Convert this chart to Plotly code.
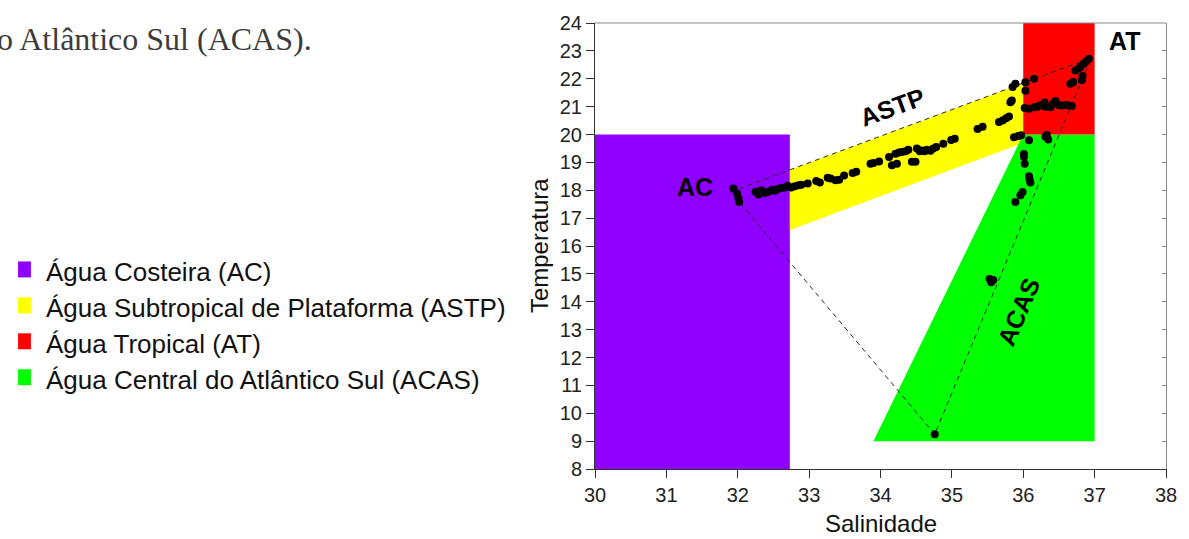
import plotly.graph_objects as go

# ---------------- data ----------------
# water-mass regions (salinity, temperature vertices)
AC_S = [30, 32.73, 32.73, 30]
AC_T = [8, 8, 20, 20]
ASTP_S = [32.73, 32.73, 36, 36]
ASTP_T = [16.57, 18.73, 21.85, 19.7]
ACAS_S = [33.9, 37, 37, 36]
ACAS_T = [9, 9, 20, 20]
AT_S = [36, 37, 37, 36]
AT_T = [20, 20, 24, 24]

# mixing triangle AC -> AT -> ACAS -> AC
TRI_S = [31.9, 36.95, 34.76, 31.9]
TRI_T = [17.94, 22.75, 9.25, 17.94]

# observed T-S points
SAL = [31.94, 31.99, 32.01, 32.02,
       32.25, 32.29, 32.33, 32.38, 32.43, 32.48, 32.52, 32.57, 32.61, 32.66, 32.70, 32.75,
       32.80, 32.85, 32.89, 32.98, 33.10, 33.15, 33.26, 33.30, 33.37, 33.42, 33.49, 33.61, 33.66,
       33.86, 33.90, 33.98, 34.12, 34.16, 34.23, 34.21, 34.26, 34.30, 34.35, 34.39, 34.44, 34.49,
       34.51, 34.55, 34.58, 34.62, 34.65, 34.70, 34.74, 34.78, 34.88, 34.99, 35.04,
       35.36, 35.43, 35.66, 35.71, 35.76, 35.80, 35.82, 35.84, 35.85, 35.89, 36.03, 36.03, 36.15,
       35.87, 35.93, 35.97, 36.08, 36.01, 36.01, 36.02, 36.08, 36.09, 36.10, 35.99, 35.96, 35.89,
       36.31, 36.35, 36.33,
       36.02, 36.08, 36.15, 36.20, 36.24, 36.30, 36.31, 36.38, 36.42, 36.45, 36.50, 36.54, 36.60,
       36.63, 36.68,
       36.66, 36.70, 36.82, 36.83, 36.73, 36.78, 36.80, 36.85, 36.88, 36.92,
       35.53, 35.58, 35.55, 34.76]
TEMP = [18.06, 17.88, 17.70, 17.58,
        17.95, 17.85, 18.00, 17.90, 17.95, 18.02, 17.98, 18.05, 18.08, 18.10, 18.16, 18.10,
        18.14, 18.18, 18.20, 18.24, 18.33, 18.28, 18.45, 18.42, 18.36, 18.38, 18.53, 18.62, 18.66,
        18.95, 18.98, 19.03, 19.19, 18.90, 18.95, 19.31, 19.35, 19.37, 19.40, 19.45, 19.02, 19.02,
        19.50, 19.40, 19.43, 19.40, 19.45, 19.42, 19.50, 19.55, 19.67, 19.80, 19.85,
        20.20, 20.28, 20.45, 20.50, 20.58, 20.65, 21.16, 21.22, 21.70, 21.82, 21.87, 21.57, 22.00,
        19.90, 19.95, 19.97, 19.79, 19.30, 19.20, 18.95, 18.50, 18.38, 18.28, 17.94, 17.82, 17.58,
        19.92, 19.82, 19.98,
        20.95, 20.92, 20.98, 21.00, 21.05, 21.15, 21.00, 20.98, 21.10, 21.20, 21.05, 21.04, 21.06,
        21.04, 21.02,
        21.82, 21.88, 21.95, 22.10, 22.30, 22.38, 22.42, 22.55, 22.62, 22.72,
        14.82, 14.78, 14.70, 9.25]

X_TICKS = [30, 31, 32, 33, 34, 35, 36, 37, 38]
Y_TICKS = list(range(8, 25))

LEGEND_LABELS = ["Água Costeira (AC)", "Água Subtropical de Plataforma (ASTP)",
                 "Água Tropical (AT)", "Água Central do Atlântico Sul (ACAS)"]
COLORS = ["#8F00FF", "#FFFF00", "#FF0000", "#00FF00"]

# ---------------- figure ----------------
W, H = 1189, 539
L, R, T, B = 595, 17, 22, 70
PW, PH = W - L - R, H - T - B


def px(x):
    return (x - L) / PW


def py(y):
    return (H - B - y) / PH


SANS = "Liberation Sans, Arial, sans-serif"

fig = go.Figure()
for s, t, c in [(AC_S, AC_T, COLORS[0]), (ASTP_S, ASTP_T, COLORS[1]),
                (ACAS_S, ACAS_T, COLORS[3]), (AT_S, AT_T, COLORS[2])]:
    fig.add_trace(go.Scatter(x=s, y=t, fill="toself", fillcolor=c, mode="lines",
                             line=dict(width=0, color=c), hoverinfo="skip", showlegend=False))

fig.add_trace(go.Scatter(x=TRI_S, y=TRI_T, mode="lines", showlegend=False,
                         line=dict(color="#2a2a2a", width=1, dash="5px,4px")))

fig.add_trace(go.Scatter(x=SAL, y=TEMP, mode="markers", showlegend=False,
                         marker=dict(color="black", size=8, line=dict(width=0))))

# dummy trace for right mirror axis
fig.add_trace(go.Scatter(x=[None], y=[None], yaxis="y2", showlegend=False, hoverinfo="skip"))

fig.update_layout(
    width=W, height=H, margin=dict(l=L, r=R, t=T, b=B),
    paper_bgcolor="white", plot_bgcolor="white",
    font=dict(family=SANS, color="#222222"),
    xaxis=dict(range=[30, 38], tickvals=X_TICKS, ticks="outside", ticklen=8, tickwidth=1,
               tickcolor="#333333", showline=True, linecolor="#333333", linewidth=1,
               showgrid=False, zeroline=False, tickfont=dict(size=20, family=SANS)),
    yaxis=dict(range=[8, 24], tickvals=Y_TICKS, ticks="outside", ticklen=8, tickwidth=1,
               tickcolor="#333333", showline=True, linecolor="#333333", linewidth=1,
               showgrid=False, zeroline=False, tickfont=dict(size=20, family=SANS)),
    yaxis2=dict(range=[8, 24], overlaying="y", side="right", tickvals=Y_TICKS,
                ticks="inside", ticklen=4, tickcolor="#888888", showticklabels=False,
                showline=True, linecolor="#888888", linewidth=1, showgrid=False, zeroline=False),
    showlegend=False,
)

# top border
fig.add_shape(type="line", xref="paper", yref="paper", x0=0, x1=1, y0=1, y1=1,
              line=dict(color="#888888", width=1))

ann = []
# axis titles
ann.append(dict(text="Salinidade", xref="paper", yref="paper", x=0.5, y=py(524),
                xanchor="center", yanchor="middle", showarrow=False,
                font=dict(size=24, family=SANS, color="#111111")))
ann.append(dict(text="Temperatura", xref="paper", yref="paper", x=px(539), y=py(245),
                xanchor="center", yanchor="middle", showarrow=False, textangle=-90,
                font=dict(size=24, family=SANS, color="#111111")))
# region labels
bold = dict(family=SANS, size=25, color="black")
ann.append(dict(text="<b>AC</b>", x=31.4, y=18.1, showarrow=False, font=bold))
ann.append(dict(text="<b>AT</b>", x=37.42, y=23.35, showarrow=False, font=bold))
ann.append(dict(text="<b>ASTP</b>", x=34.17, y=20.98, showarrow=False, font=bold, textangle=-20))
ann.append(dict(text="<b>ACAS</b>", x=35.94, y=13.66, showarrow=False, font=bold, textangle=-67))

# legend (outside plot)
rows = [269, 305, 341, 377]
for lab, col, ry in zip(LEGEND_LABELS, COLORS, rows):
    fig.add_shape(type="rect", xref="paper", yref="paper",
                  x0=px(12), x1=px(25), y0=py(ry + 8), y1=py(ry - 8),
                  fillcolor=col, line=dict(width=0))
    ann.append(dict(text=lab, xref="paper", yref="paper", x=px(38), y=py(ry + 3),
                    xanchor="left", yanchor="middle", showarrow=False,
                    font=dict(size=26, family=SANS, color="#111111")))

# cropped document text at top-left
ann.append(dict(text="o Atlântico Sul (ACAS).", xref="paper", yref="paper", x=px(311), y=py(38),
                xanchor="right", yanchor="middle", showarrow=False,
                font=dict(size=32, family="Liberation Serif, Times New Roman, serif",
                          color="#3c3c3c")))

fig.update_layout(annotations=ann)

fig.write_html("out.html", config={"displayModeBar": False},
               post_script="document.body.style.margin='0';")
